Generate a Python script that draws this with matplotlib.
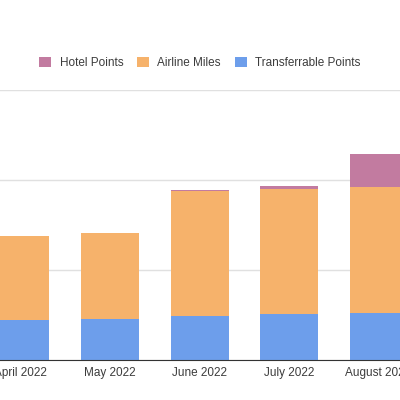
import matplotlib.pyplot as plt
import numpy as np

plt.rcParams['font.family'] = ['Liberation Sans', 'DejaVu Sans']

months = ["April 2022", "May 2022", "June 2022", "July 2022", "August 2022"]
transferrable = [22200, 22800, 24400, 25400, 26300]
airline = [46700, 47800, 69400, 69600, 69800]
hotel = [0, 0, 600, 1500, 18300]

colors = {
    "Hotel Points": "#c27ba0",
    "Airline Miles": "#f6b26b",
    "Transferrable Points": "#6d9eeb",
}

fig = plt.figure(figsize=(4, 4), dpi=100)
ax = fig.add_axes([0, 0.1, 1, 0.675])

x = np.arange(len(months))
width = 0.648
b1 = ax.bar(x, transferrable, width, color=colors["Transferrable Points"], label="Transferrable Points", zorder=3)
b2 = ax.bar(x, airline, width, bottom=transferrable, color=colors["Airline Miles"], label="Airline Miles", zorder=3)
bottom2 = np.array(transferrable) + np.array(airline)
b3 = ax.bar(x, hotel, width, bottom=bottom2, color=colors["Hotel Points"], label="Hotel Points", zorder=3)

ax.set_xlim(-0.229, 4.240)
ax.set_ylim(0, 150000)
ax.set_yticks([0, 50000, 100000, 150000])
ax.yaxis.grid(True, color="#e0e0e0", linewidth=1, zorder=0)
ax.tick_params(axis="y", left=False, labelleft=False)
ax.tick_params(axis="x", length=0, pad=5, labelsize=8.5, labelcolor="#3c3c3c")
ax.set_xticks(x)
ax.set_xticklabels(months)
for side in ["top", "left", "right"]:
    ax.spines[side].set_visible(False)
ax.spines["bottom"].set_color("#333333")
ax.spines["bottom"].set_zorder(4)

fig.legend(handles=[b3, b2, b1], labels=["Hotel Points", "Airline Miles", "Transferrable Points"],
           loc="center", bbox_to_anchor=(0.5, 0.843), ncol=3, frameon=False,
           fontsize=8.5, handlelength=1, handleheight=1, handletextpad=0.7,
           columnspacing=1.2, labelcolor="#3c3c3c")

fig.savefig("out.png", dpi=100)
